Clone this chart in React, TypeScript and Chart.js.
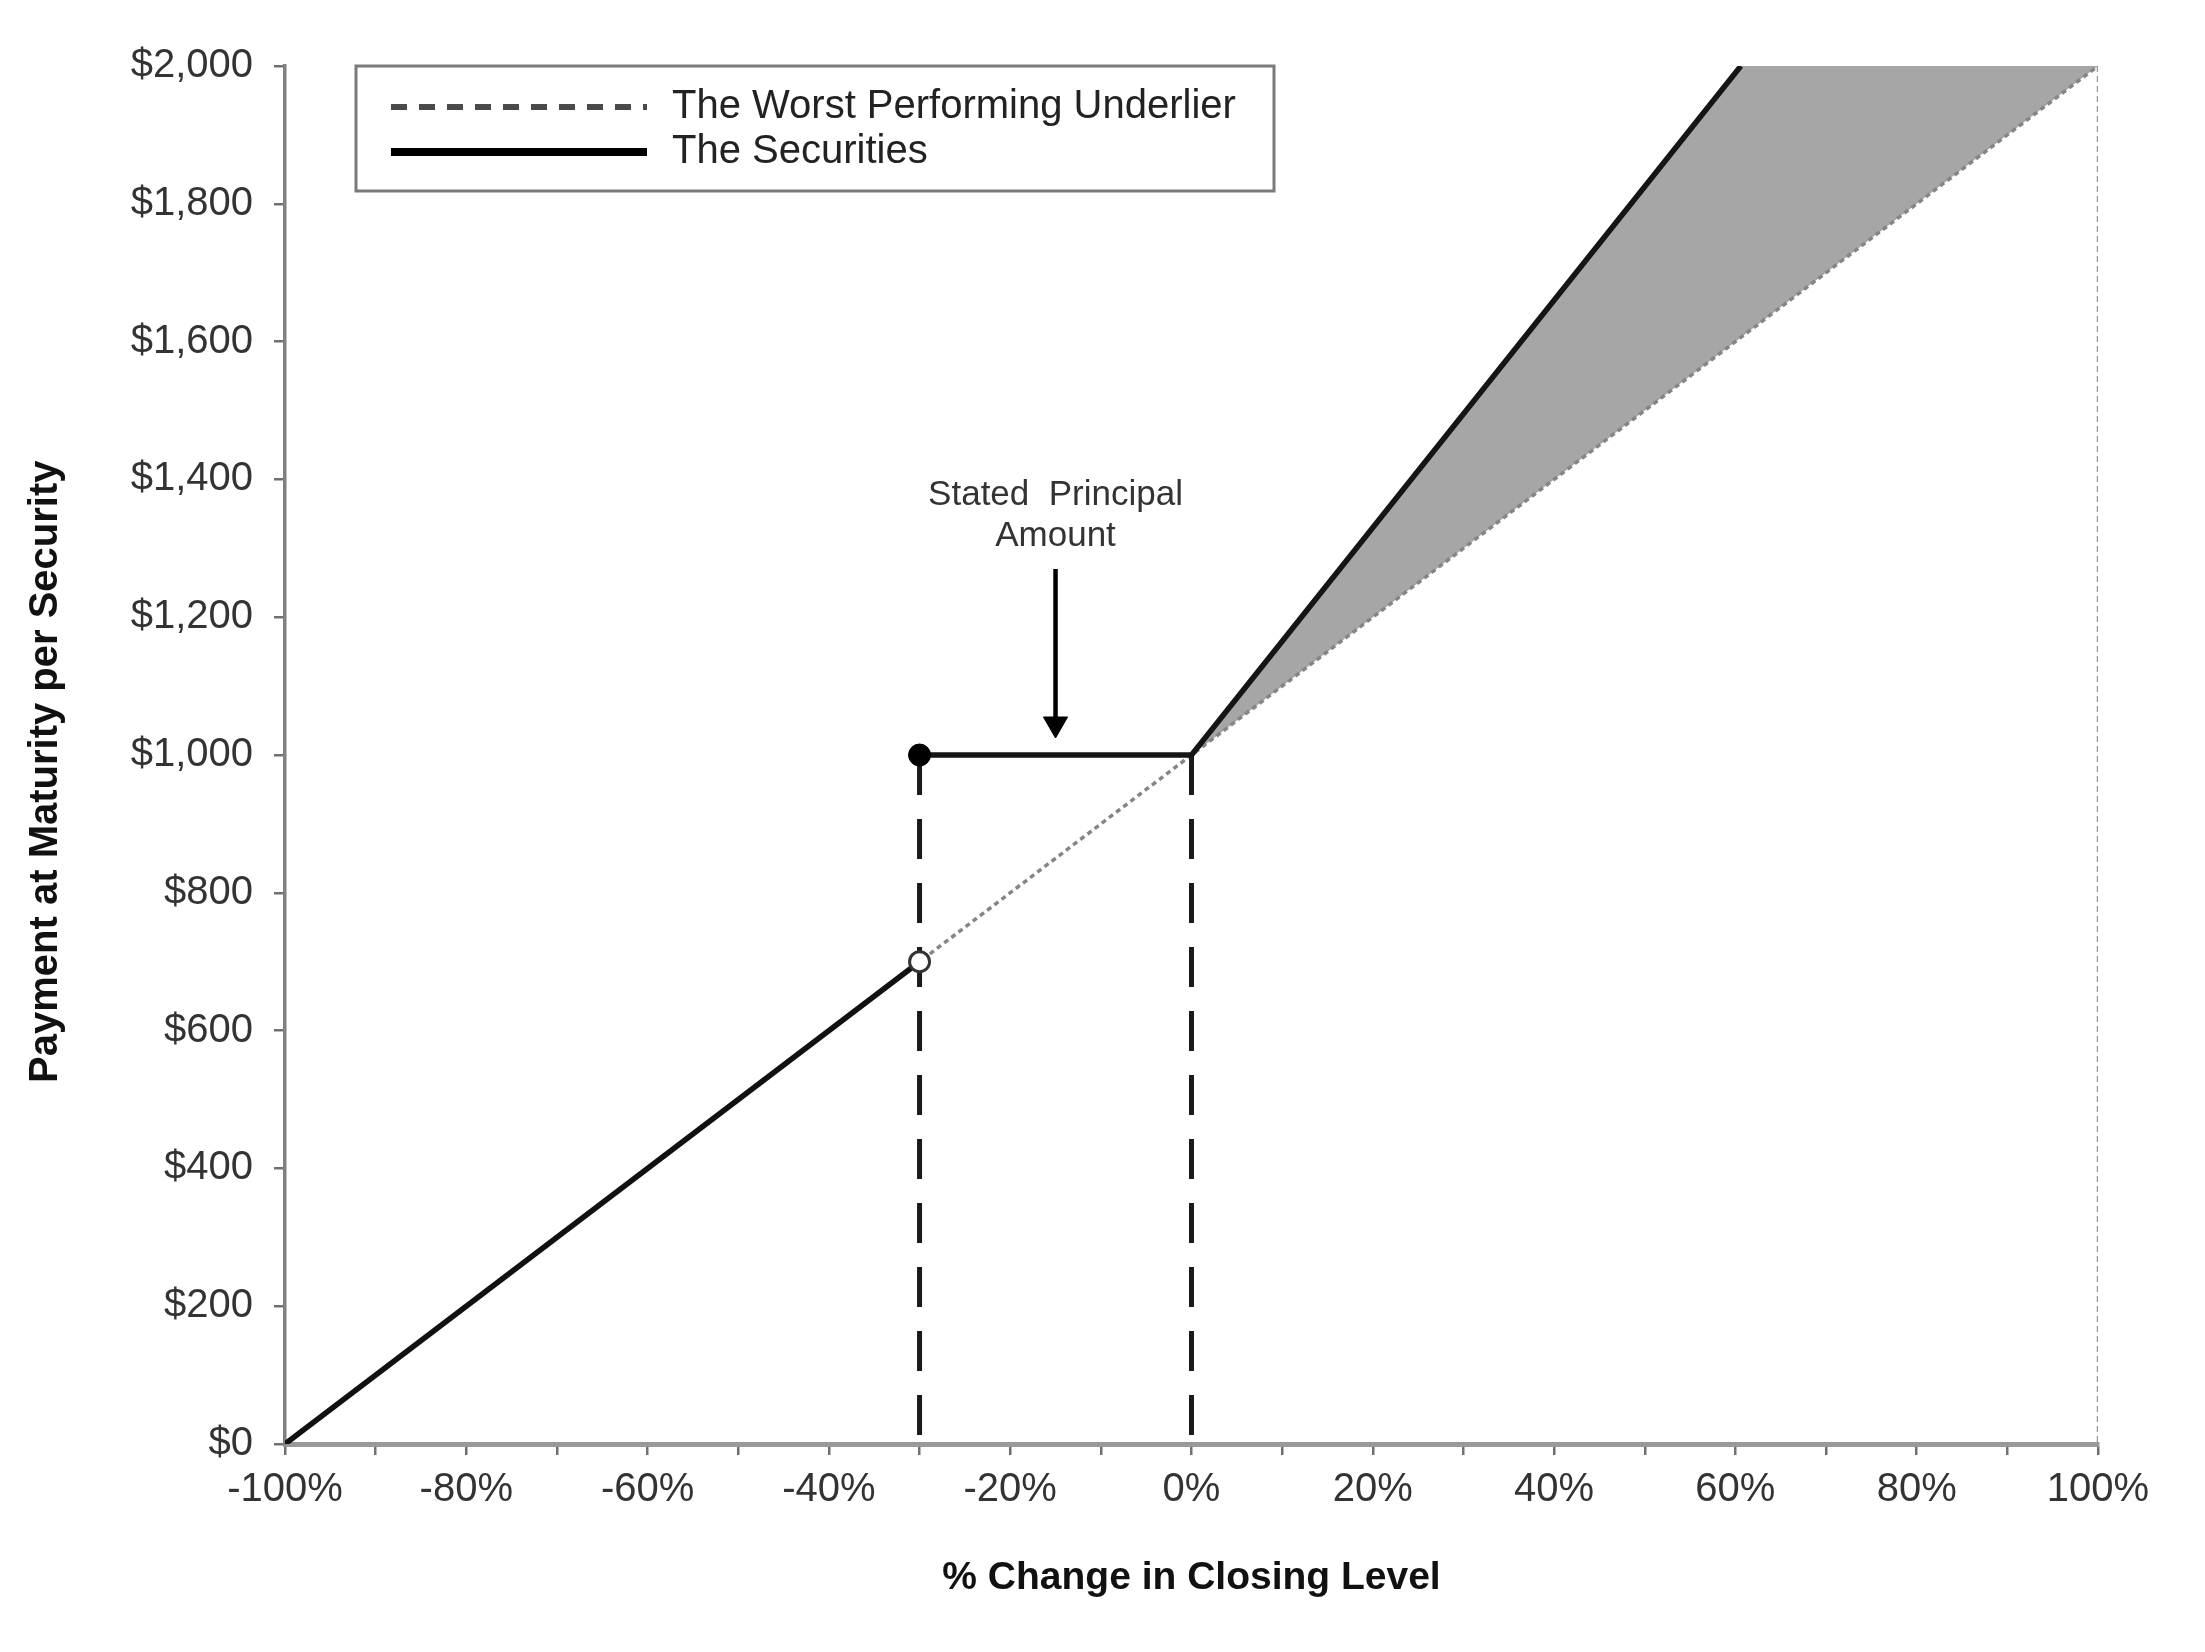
import React, { useEffect, useRef } from 'react';
import { Chart, registerables } from 'chart.js';

Chart.register(...registerables);

const FONT = 'Liberation Sans, Arial, Helvetica, sans-serif';

const xTickValues = [-100, -90, -80, -70, -60, -50, -40, -30, -20, -10, 0, 10, 20, 30, 40, 50, 60, 70, 80, 90, 100];
const xTickLabels = ['-100%', '', '-80%', '', '-60%', '', '-40%', '', '-20%', '', '0%', '', '20%', '', '40%', '', '60%', '', '80%', '', '100%'];
const yTickValues = [0, 200, 400, 600, 800, 1000, 1200, 1400, 1600, 1800, 2000];
const yTickLabels = ['$0', '$200', '$400', '$600', '$800', '$1,000', '$1,200', '$1,400', '$1,600', '$1,800', '$2,000'];

const underlierX = [-100, 100];
const underlierY = [0, 2000];
const capLineX = [100, 100];
const capLineY = [2000, 0];
const securitiesLowX = [-100, -30];
const securitiesLowY = [0, 700];
const securitiesHighX = [-30, 0, 60.6];
const securitiesHighY = [1000, 1000, 2000];
const barrierX = [-30, -30];
const barrierY = [1000, 0];
const initialX = [0, 0];
const initialY = [1000, 0];
const shadedX = [0, 60.6, 100];
const shadedY = [1000, 2000, 2000];
const filledDotX = [-30];
const filledDotY = [1000];
const openDotX = [-30];
const openDotY = [700];
const arrowX = [-15, -15];
const arrowY = [1270, 1045];
const annotationLines = ['Stated  Principal', 'Amount'];
const annotationX = -15;
const annotationY = [1377, 1318];
const legendLabels = ['The Worst Performing Underlier', 'The Securities'];
const xTitle = '% Change in Closing Level';
const yTitle = 'Payment at Maturity per Security';

const pts = (xs: number[], ys: number[]) => xs.map((x, i) => ({ x, y: ys[i] }));

const overlayPlugin = {
  id: 'overlay',
  afterDatasetsDraw(chart: any) {
    const { ctx, chartArea, scales } = chart;
    const xs = scales.x;
    const ys = scales.y;
    ctx.save();
    // annotation text
    ctx.fillStyle = '#333';
    ctx.font = `35px ${FONT}`;
    ctx.textAlign = 'center';
    ctx.textBaseline = 'middle';
    annotationLines.forEach((t, i) => {
      ctx.fillText(t, xs.getPixelForValue(annotationX), ys.getPixelForValue(annotationY[i]));
    });
    // legend box
    const bx = chartArea.left + 71;
    const by = chartArea.top;
    const bw = 918;
    const bh = 125;
    ctx.fillStyle = '#fff';
    ctx.fillRect(bx, by, bw, bh);
    ctx.strokeStyle = '#7a7a7a';
    ctx.lineWidth = 3;
    ctx.strokeRect(bx, by, bw, bh);
    const rows = [by + 41, by + 86];
    // dashed sample
    ctx.beginPath();
    ctx.setLineDash([16, 12]);
    ctx.strokeStyle = '#4a4a4a';
    ctx.lineWidth = 6;
    ctx.moveTo(bx + 35, rows[0]);
    ctx.lineTo(bx + 291, rows[0]);
    ctx.stroke();
    // solid sample
    ctx.beginPath();
    ctx.setLineDash([]);
    ctx.strokeStyle = '#000';
    ctx.lineWidth = 8;
    ctx.moveTo(bx + 35, rows[1]);
    ctx.lineTo(bx + 291, rows[1]);
    ctx.stroke();
    ctx.fillStyle = '#222';
    ctx.font = `40px ${FONT}`;
    ctx.textAlign = 'left';
    ctx.textBaseline = 'middle';
    legendLabels.forEach((t, i) => ctx.fillText(t, bx + 316, rows[i]));
    ctx.restore();
  },
};

export default function App() {
  const ref = useRef<HTMLCanvasElement | null>(null);
  useEffect(() => {
    if (!ref.current) return;
    const datasets: any[] = [
      {
        label: 'underlier',
        data: pts(underlierX, underlierY),
        borderColor: '#858585',
        borderWidth: 3.5,
        borderDash: [5, 4],
        pointRadius: 0,
        fill: false,
        order: 3,
      },
      {
        label: 'cap',
        data: pts(capLineX, capLineY),
        borderColor: '#999',
        borderWidth: 2.5,
        borderDash: [6, 4],
        pointRadius: 0,
        fill: false,
        order: 3,
      },
      {
        label: 'shaded',
        data: pts(shadedX, shadedY),
        borderWidth: 0,
        borderColor: 'rgba(0,0,0,0)',
        backgroundColor: '#a6a6a6',
        pointRadius: 0,
        fill: { target: 0 },
        order: 5,
      },
      {
        label: 'barrier',
        data: pts(barrierX, barrierY),
        borderColor: '#1a1a1a',
        borderWidth: 5,
        borderDash: [40, 24],
        pointRadius: 0,
        fill: false,
        order: 2,
      },
      {
        label: 'initial',
        data: pts(initialX, initialY),
        borderColor: '#1a1a1a',
        borderWidth: 5,
        borderDash: [40, 24],
        pointRadius: 0,
        fill: false,
        order: 2,
      },
      {
        label: 'secLow',
        data: pts(securitiesLowX, securitiesLowY),
        borderColor: '#111',
        borderWidth: 5.5,
        pointRadius: 0,
        fill: false,
        order: 1,
      },
      {
        label: 'secHigh',
        data: pts(securitiesHighX, securitiesHighY),
        borderColor: '#151515',
        borderWidth: 5.5,
        pointRadius: 0,
        fill: false,
        order: 1,
      },
      {
        label: 'arrow',
        data: pts(arrowX, arrowY),
        borderColor: '#000',
        borderWidth: 4.5,
        pointRadius: [0, 14],
        pointStyle: 'triangle',
        rotation: 180,
        pointBackgroundColor: '#000',
        pointBorderColor: '#000',
        pointBorderWidth: 1,
        fill: false,
        order: 1,
      },
      {
        label: 'filledDot',
        data: pts(filledDotX, filledDotY),
        showLine: false,
        pointRadius: 11,
        pointBackgroundColor: '#000',
        pointBorderColor: '#000',
        pointBorderWidth: 1,
        order: 0,
      },
      {
        label: 'openDot',
        data: pts(openDotX, openDotY),
        showLine: false,
        pointRadius: 10,
        pointBackgroundColor: '#fff',
        pointBorderColor: '#333',
        pointBorderWidth: 3,
        order: 0,
      },
    ];

    const chart = new Chart(ref.current, {
      type: 'line',
      data: { datasets },
      options: {
        responsive: false,
        animation: false,
        devicePixelRatio: 1,
        events: [],
        elements: { line: { tension: 0 } },
        layout: { padding: { top: 66, right: 107, left: 0, bottom: 0 } },
        plugins: {
          legend: { display: false },
          tooltip: { enabled: false },
        },
        scales: {
          x: {
            type: 'linear',
            min: -100,
            max: 100,
            afterBuildTicks: (s: any) => {
              s.ticks = xTickValues.map((v) => ({ value: v }));
            },
            afterFit: (s: any) => {
              s.height = 208;
            },
            ticks: {
              autoSkip: false,
              maxRotation: 0,
              padding: 11,
              color: '#333',
              font: { family: FONT, size: 40 },
              callback: (_v: any, i: number) => xTickLabels[i],
            },
            grid: { drawOnChartArea: false, drawTicks: true, tickLength: 11, color: '#707070', lineWidth: 2.5 },
            border: { display: true, color: '#999', width: 5 },
            title: {
              display: true,
              text: xTitle,
              color: '#111',
              font: { family: FONT, size: 39, weight: 'bold' },
              padding: { top: 0, bottom: 50 },
            },
          },
          y: {
            type: 'linear',
            min: 0,
            max: 2000,
            afterBuildTicks: (s: any) => {
              s.ticks = yTickValues.map((v) => ({ value: v }));
            },
            afterFit: (s: any) => {
              s.width = 285;
            },
            ticks: {
              autoSkip: false,
              padding: 21,
              color: '#333',
              font: { family: FONT, size: 40 },
              callback: (_v: any, i: number) => yTickLabels[i],
            },
            grid: { drawOnChartArea: false, drawTicks: true, tickLength: 11, color: '#707070', lineWidth: 2.5 },
            border: { display: true, color: '#808080', width: 3.5 },
            title: {
              display: true,
              text: yTitle + '   ',
              color: '#111',
              font: { family: FONT, size: 40, weight: 'bold' },
              padding: { top: 22, bottom: 0 },
            },
          },
        },
      } as any,
      plugins: [overlayPlugin],
    });
    return () => chart.destroy();
  }, []);

  return (
    <div style={{ position: 'absolute', left: 0, top: 0, width: 2205, height: 1652, background: '#fff' }}>
      <canvas ref={ref} width={2205} height={1652} style={{ display: 'block' }} />
    </div>
  );
}
